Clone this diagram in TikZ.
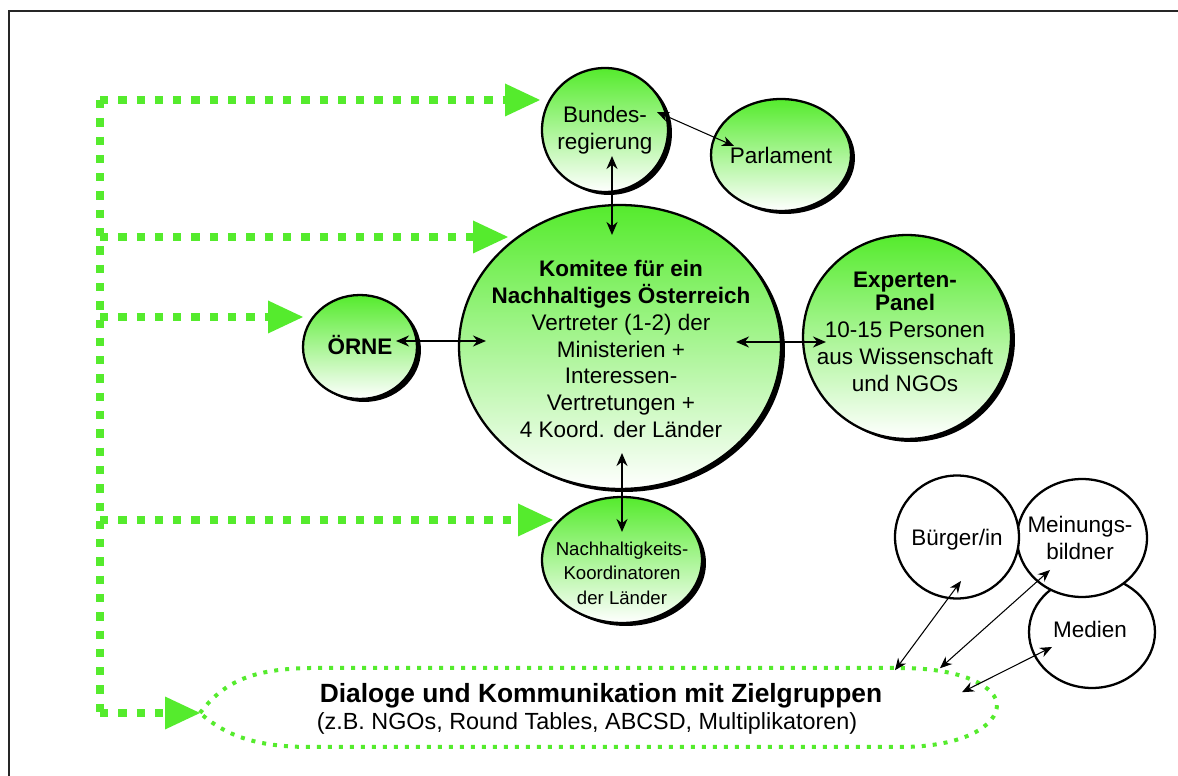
\documentclass[tikz,border=0pt]{standalone}
\usepackage{fontspec}
\setmainfont{Liberation Sans}
\usetikzlibrary{arrows.meta,shapes.geometric,shadows,calc}
\definecolor{ngreen}{RGB}{85,235,45}
\newcommand{\fntA}{\fontsize{12.8pt}{15.3pt}\selectfont}
\newcommand{\fntN}{\fontsize{10.6pt}{13.9pt}\selectfont}
\newcommand{\fntD}{\fontsize{15pt}{17pt}\selectfont\bfseries}
\newcommand{\fntS}{\fontsize{13.3pt}{15pt}\selectfont}
\begin{document}
\begin{tikzpicture}[x=0.02cm,y=-0.02cm,
  gcirc/.style={ellipse, draw=black, line width=1.3pt, top color=ngreen, bottom color=white,
    drop shadow={shadow xshift=0.08cm, shadow yshift=-0.06cm, fill=black, opacity=1}, inner sep=0pt},
  wcirc/.style={ellipse, draw=black, line width=1.3pt, fill=white, inner sep=0pt},
  txt/.style={inner sep=0pt, align=center, font=\fntA},
  biarrow/.style={line width=1pt, {Stealth[length=0.26cm,width=0.22cm]}-{Stealth[length=0.26cm,width=0.22cm]}},
  thinarrow/.style={line width=0.6pt, {Stealth[length=0.24cm,width=0.2cm]}-{Stealth[length=0.24cm,width=0.2cm]}},
  gline/.style={draw=ngreen, line width=0.166cm, dash pattern=on 0.166cm off 0.2cm},
  garrow/.style={gline, -{Triangle[length=0.7cm,width=0.66cm,fill=ngreen,line width=0pt]}},
  gdot/.style={draw=ngreen, line width=0.08cm, dash pattern=on 0.08cm off 0.14cm}
]
\useasboundingbox (0,0) rectangle (1178,776);
% frame
\draw[line width=1.3pt, black!85] (9,800) -- (9,11) -- (1200,11);

% green circles
\node[gcirc, minimum width=2.52cm, minimum height=2.48cm] (bund) at (605,130) {};
\node[gcirc, minimum width=2.80cm, minimum height=2.24cm] (parl) at (781,155) {};
\node[gcirc, minimum width=6.44cm, minimum height=5.68cm] (kom) at (620,347) {};
\node[gcirc, minimum width=4.16cm, minimum height=4.08cm] (exp) at (907,337) {};
\node[gcirc, minimum width=2.28cm, minimum height=2.08cm] (orne) at (360,347) {};
\node[gcirc, minimum width=3.20cm, minimum height=2.52cm] (nach) at (622,560) {};

% white circles
\node[wcirc, minimum width=2.52cm, minimum height=2.24cm] (med) at (1092,632) {};
\node[wcirc, minimum width=2.60cm, minimum height=2.36cm] (mein) at (1082,538) {};
\node[wcirc, minimum width=2.48cm, minimum height=2.46cm] (burg) at (957,537) {};

% texts
\node[txt] (bundt) at (605,130) {Bundes-\\regierung};
\node[txt] (parlt) at (781,155) {Parlament};
\node[txt] (komt) at (621,349) {\textbf{Komitee für ein}\\\textbf{Nachhaltiges Österreich}\\Vertreter (1-2) der\\Ministerien +\\Interessen-\\Vertretungen +\\4 Koord. der Länder};
\node[txt] (expt) at (905,332) {\textbf{Experten-}\\[-2.2pt]\textbf{Panel}\\10-15 Personen\\aus Wissenschaft\\und NGOs};
\node[txt] (ornet) at (360,345) {\textbf{ÖRNE}};
\node[txt, font=\fntN] (nacht) at (622,573) {Nachhaltigkeits-\\Koordinatoren\\der Länder};
\node[txt] (burgt) at (957,540) {Bürger/in};
\node[txt] (meint) at (1080,538) {Meinungs-\\bildner};
\node[txt] (medt) at (1090,629) {Medien};

% dialog shape
\coordinate (dtip) at (200,713);
\draw[gdot] (dtip) .. controls (225,680) and (255,669) .. (310,668) -- (900,668)
  .. controls (965,668) and (997,688) .. (997,705)
  .. controls (997,725) and (965,747) .. (900,747) -- (310,747)
  .. controls (255,747) and (225,735) .. (dtip);
\node[inner sep=0pt, font=\fntD, anchor=base] (dtitle) at (601,703) {Dialoge und Kommunikation mit Zielgruppen};
\node[inner sep=0pt, font=\fntS, anchor=base] (dsub) at (587,730) {(z.B. NGOs, Round Tables, ABCSD, Multiplikatoren)};

% green connectors
\coordinate (g1) at (100,100);
\coordinate (g2) at (100,237);
\coordinate (g3) at (100,317);
\coordinate (g4) at (100,520);
\coordinate (g5) at (100,713);
\draw[gline] (g1) -- (g5);
\draw[garrow] (g1) -- ($(bund)+(-65,-30)$);
\draw[garrow] (g2) -- ($(kom)+(-112,-110)$);
\draw[garrow] (g3) -- ($(orne)+(-57,-30)$);
\draw[garrow] (g4) -- ($(nach)+(-69,-40)$);
\draw[garrow] (g5) -- (dtip);

% black connectors
\draw[biarrow] ($(bund)+(7,26)$) -- ($(kom)+(-8,-112)$);
\draw[thinarrow] ($(bund)+(52,-18)$) -- ($(parl)+(-47,-9)$);
\draw[biarrow] ($(orne)+(36,-6)$) -- ($(kom)+(-134,-6)$);
\draw[biarrow] ($(kom)+(116,-5)$) -- ($(exp)+(-81,5)$);
\draw[biarrow] ($(kom)+(2,106)$) -- ($(nach)+(0,-28)$);
\draw[thinarrow] ($(burg)+(4,44)$) -- ($(dtitle)+(294,-26)$);
\draw[thinarrow] ($(mein)+(-32,32)$) -- ($(dtitle)+(339,-28)$);
\draw[thinarrow] ($(med)+(-40,15)$) -- ($(dtitle)+(361,-4)$);
\end{tikzpicture}
\end{document}
